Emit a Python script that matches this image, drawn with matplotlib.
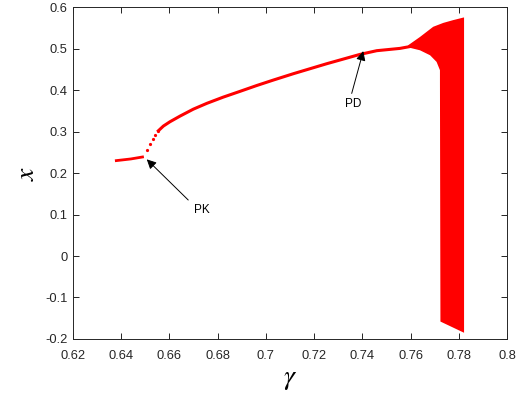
import matplotlib
matplotlib.use("Agg")
import matplotlib.pyplot as plt

plt.rcParams['font.family'] = ['Liberation Sans', 'DejaVu Sans']
plt.rcParams['mathtext.fontset'] = 'stix'
plt.rcParams['axes.unicode_minus'] = False

# flat branch before the fold (PK)
flat_x = [0.6374, 0.6440, 0.6494]
flat_y = [0.2296, 0.2340, 0.2393]

# sparse dots right after the fold
fold_x = [0.6508, 0.6519, 0.6531, 0.6540, 0.6554]
fold_y = [0.2554, 0.2699, 0.2812, 0.2916, 0.3019]

# continuous upper branch up to the period doubling (PD)
branch_x = [0.6554, 0.6575, 0.6602, 0.6644, 0.6699, 0.6755, 0.6823,
            0.6893, 0.6962, 0.7030, 0.7114, 0.7252, 0.7390, 0.7460,
            0.7556, 0.7598]
branch_y = [0.3019, 0.3133, 0.3236, 0.3373, 0.3540, 0.3680, 0.3830,
            0.3970, 0.4110, 0.4240, 0.4395, 0.4635, 0.4860, 0.4950,
            0.5005, 0.5050]

# chaotic band outline: upper edge left->right, then lower edge right->left
band_top_x = [0.7590, 0.7639, 0.7694, 0.7736, 0.7777, 0.7820, 0.7822]
band_top_y = [0.5080, 0.5280, 0.5526, 0.5620, 0.5687, 0.5750, 0.5750]
band_bot_x = [0.7822, 0.7724, 0.7722, 0.7722, 0.7708, 0.7681, 0.7639, 0.7590]
band_bot_y = [-0.185, -0.158, 0.424, 0.448, 0.468, 0.484, 0.496, 0.503]

xticks = [0.62, 0.64, 0.66, 0.68, 0.70, 0.72, 0.74, 0.76, 0.78, 0.80]
xlabels = ['0.62', '0.64', '0.66', '0.68', '0.7', '0.72', '0.74', '0.76', '0.78', '0.8']
yticks = [-0.2, -0.1, 0.0, 0.1, 0.2, 0.3, 0.4, 0.5, 0.6]
ylabels = ['-0.2', '-0.1', '0', '0.1', '0.2', '0.3', '0.4', '0.5', '0.6']

fig = plt.figure(figsize=(5.27, 3.96), dpi=100)
ax = fig.add_axes([0.1385, 0.144, 0.8235, 0.838])

red = '#ff0000'
ax.plot(flat_x, flat_y, color=red, lw=2.0, solid_capstyle='butt')
ax.plot(fold_x, fold_y, ls='none', marker='o', ms=2.3, color=red, mec='none')
ax.plot(branch_x, branch_y, color=red, lw=2.2)
ax.fill(band_top_x + band_bot_x, band_top_y + band_bot_y, color=red, lw=0)

arrow = dict(arrowstyle='-|>', color='k', lw=0.7, mutation_scale=14, shrinkA=0, shrinkB=0)
ax.annotate('', xy=(0.6506, 0.233), xytext=(0.6678, 0.135), arrowprops=arrow)
ax.text(0.6734, 0.111, 'PK', ha='center', va='center', fontsize=8.5)
ax.annotate('', xy=(0.7404, 0.494), xytext=(0.7356, 0.392), arrowprops=arrow)
ax.text(0.7363, 0.366, 'PD', ha='center', va='center', fontsize=8.5)

ax.set_xlim(0.62, 0.80)
ax.set_ylim(-0.2, 0.6)
ax.set_xticks(xticks)
ax.set_xticklabels(xlabels)
ax.set_yticks(yticks)
ax.set_yticklabels(ylabels)
ax.tick_params(direction='in', top=True, right=True, length=4, width=0.6,
               labelsize=9.3, labelcolor='#262626')
ax.tick_params(axis='x', pad=8)
ax.tick_params(axis='y', pad=4)
for s in ax.spines.values():
    s.set_linewidth(0.7)
    s.set_color('#262626')

ax.set_xlabel(r'$\gamma$', fontsize=20, labelpad=3)
ax.set_ylabel(r'$x$', fontsize=20, labelpad=4)

fig.savefig('out.png', dpi=100)
